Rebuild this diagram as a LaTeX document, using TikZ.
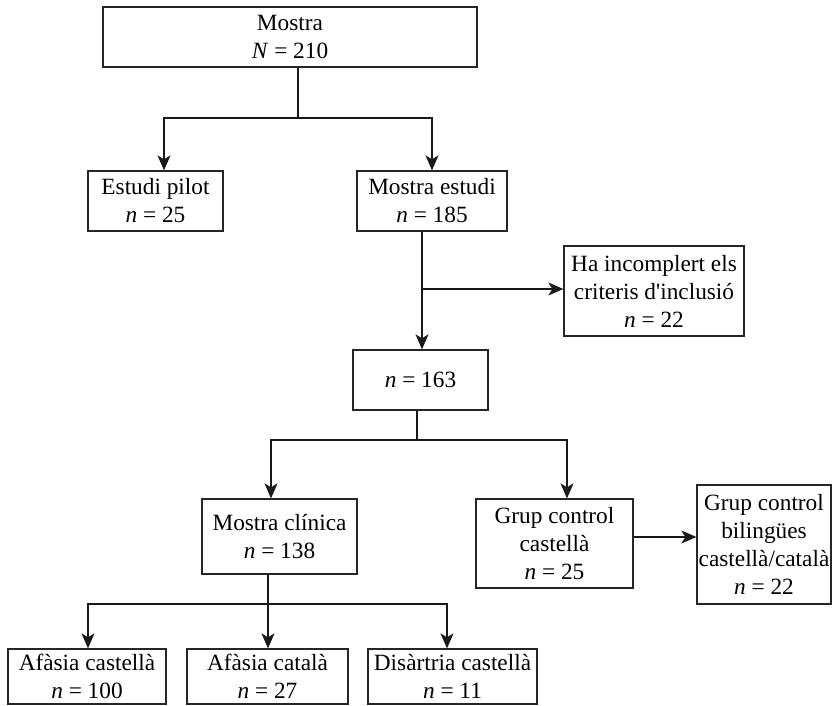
\documentclass[tikz,border=0pt]{standalone}
\usepackage{fontspec}
\setmainfont{Liberation Serif}[Ligatures=TeXOff]
\usetikzlibrary{arrows.meta}
\begin{document}
\begin{tikzpicture}[x=1pt,y=-1pt,
  box/.style={draw=black!85, line width=1.3pt, inner sep=0pt, align=center,
    font=\fontsize{23.3}{28}\selectfont},
  conn/.style={line width=1.3pt, draw=black!90},
  arr/.style={conn, -{Stealth[length=15pt,width=13pt,inset=4pt]}}]
\useasboundingbox (0,0) rectangle (836,705);
\fill[white] (0,0) rectangle (836,705);
% boxes
\node[box, minimum width=374pt, minimum height=60pt] (mostra) at (290,37) {Mostra\\\textit{N} = 210};
\node[box, minimum width=135pt, minimum height=60pt] (pilot) at (155.5,201) {Estudi pilot\\\textit{n} = 25};
\node[box, minimum width=150pt, minimum height=60pt] (estudi) at (432,201) {Mostra estudi\\\textit{n} = 185};
\node[box, minimum width=180pt, minimum height=90pt] (incl) at (654,291) {Ha incomplert els\\criteris d'inclusió\\\textit{n} = 22};
\node[box, minimum width=135pt, minimum height=60pt] (n163) at (420.5,380) {\textit{n} = 163};
\node[box, minimum width=155pt, minimum height=75pt] (clin) at (279.5,536.5) {Mostra clínica\\\textit{n} = 138};
\node[box, minimum width=157pt, minimum height=89pt] (gcc) at (554.5,543.5) {Grup control\\castellà\\\textit{n} = 25};
\node[box, minimum width=134pt, minimum height=119pt] (gcb) at (764,544.5) {Grup control\\bilingües\\castellà/català\\\textit{n} = 22};
\node[box, minimum width=158pt, minimum height=55pt] (afc) at (87,676.5) {Afàsia castellà\\\textit{n} = 100};
\node[box, minimum width=161pt, minimum height=55pt] (afcat) at (267.5,676.5) {Afàsia català\\\textit{n} = 27};
\node[box, minimum width=169pt, minimum height=55pt] (dis) at (452.5,676.5) {Disàrtria castellà\\\textit{n} = 11};
% junction coordinates
\coordinate (j1) at (298,118);
\coordinate (xa) at (164,0);
\coordinate (xb) at (432,0);
\coordinate (xc) at (422,0);
\coordinate (j2) at (422,289);
\coordinate (j3) at (417,440);
\coordinate (xd) at (271,0);
\coordinate (xe) at (567,0);
\coordinate (j4) at (268,604);
\coordinate (xf) at (88,0);
\coordinate (xg) at (268,0);
\coordinate (xh) at (447,0);
\coordinate (ya) at (0,537);
% connectors
\draw[conn] (mostra.south -| j1) -- (j1);
\draw[arr] (j1) -| (pilot.north -| xa);
\draw[arr] (j1) -| (estudi.north -| xb);
\draw[arr] (estudi.south -| xc) -- (n163.north -| xc);
\draw[arr] (j2) -- (incl.west |- j2);
\draw[conn] (n163.south -| j3) -- (j3);
\draw[arr] (j3) -| (clin.north -| xd);
\draw[arr] (j3) -| (gcc.north -| xe);
\draw[arr] (gcc.east |- ya) -- (gcb.west |- ya);
\draw[conn] (clin.south -| j4) -- (j4);
\draw[arr] (j4) -| (afc.north -| xf);
\draw[arr] (j4) -- (afcat.north -| xg);
\draw[arr] (j4) -| (dis.north -| xh);
\end{tikzpicture}
\end{document}
